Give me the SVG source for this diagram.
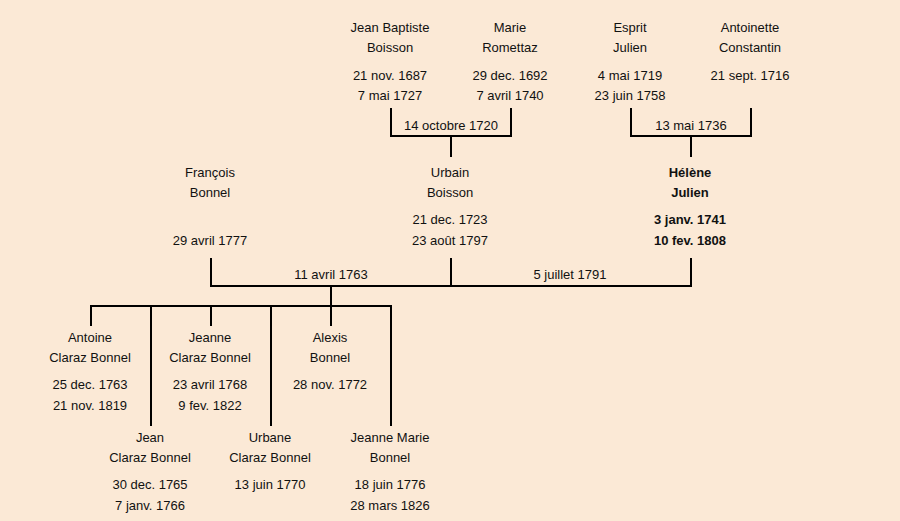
<svg xmlns="http://www.w3.org/2000/svg" width="900" height="521" viewBox="0 0 900 521">
<style>
text{font-family:"Liberation Sans","DejaVu Sans",sans-serif;font-size:13px;fill:#111;text-anchor:middle}
.b{font-weight:bold}
.c{stroke:#000;stroke-width:2;fill:none}
</style>
<rect width="900" height="521" fill="#fbe9d6"/>
<g id="connectors" class="c">
<path d="M391,108V136H511V108M451,136V157"/>
<path d="M631,108V136H751V108M691,136V157"/>
<path d="M211,258V286H691V258M451,258V286M331,286V306"/>
<path d="M91,326V306H391V426M151,306V426M211,306V326M271,306V426M331,306V326"/>
</g>
<g id="labels">
<text x="451" y="130">14 octobre 1720</text>
<text x="691" y="130">13 mai 1736</text>
<text x="331" y="279">11 avril 1763</text>
<text x="570" y="279">5 juillet 1791</text>
</g>
<g id="jean-baptiste"><text x="390" y="32">Jean Baptiste</text><text x="390" y="52">Boisson</text><text x="390" y="80">21 nov. 1687</text><text x="390" y="100">7 mai 1727</text></g>
<g id="marie"><text x="510" y="32">Marie</text><text x="510" y="52">Romettaz</text><text x="510" y="80">29 dec. 1692</text><text x="510" y="100">7 avril 1740</text></g>
<g id="esprit"><text x="630" y="32">Esprit</text><text x="630" y="52">Julien</text><text x="630" y="80">4 mai 1719</text><text x="630" y="100">23 juin 1758</text></g>
<g id="antoinette"><text x="750" y="32">Antoinette</text><text x="750" y="52">Constantin</text><text x="750" y="80">21 sept. 1716</text></g>
<g id="francois"><text x="210" y="177">François</text><text x="210" y="197">Bonnel</text><text x="210" y="245">29 avril 1777</text></g>
<g id="urbain"><text x="450" y="177">Urbain</text><text x="450" y="197">Boisson</text><text x="450" y="224">21 dec. 1723</text><text x="450" y="245">23 août 1797</text></g>
<g id="helene" class="b"><text class="b" x="690" y="177">Hélène</text><text class="b" x="690" y="197">Julien</text><text class="b" x="690" y="224">3 janv. 1741</text><text class="b" x="690" y="245">10 fev. 1808</text></g>
<g id="antoine"><text x="90" y="342">Antoine</text><text x="90" y="362">Claraz Bonnel</text><text x="90" y="389">25 dec. 1763</text><text x="90" y="410">21 nov. 1819</text></g>
<g id="jeanne"><text x="210" y="342">Jeanne</text><text x="210" y="362">Claraz Bonnel</text><text x="210" y="389">23 avril 1768</text><text x="210" y="410">9 fev. 1822</text></g>
<g id="alexis"><text x="330" y="342">Alexis</text><text x="330" y="362">Bonnel</text><text x="330" y="389">28 nov. 1772</text></g>
<g id="jean"><text x="150" y="442">Jean</text><text x="150" y="462">Claraz Bonnel</text><text x="150" y="489">30 dec. 1765</text><text x="150" y="510">7 janv. 1766</text></g>
<g id="urbane"><text x="270" y="442">Urbane</text><text x="270" y="462">Claraz Bonnel</text><text x="270" y="489">13 juin 1770</text></g>
<g id="jeanne-marie"><text x="390" y="442">Jeanne Marie</text><text x="390" y="462">Bonnel</text><text x="390" y="489">18 juin 1776</text><text x="390" y="510">28 mars 1826</text></g>
</svg>
